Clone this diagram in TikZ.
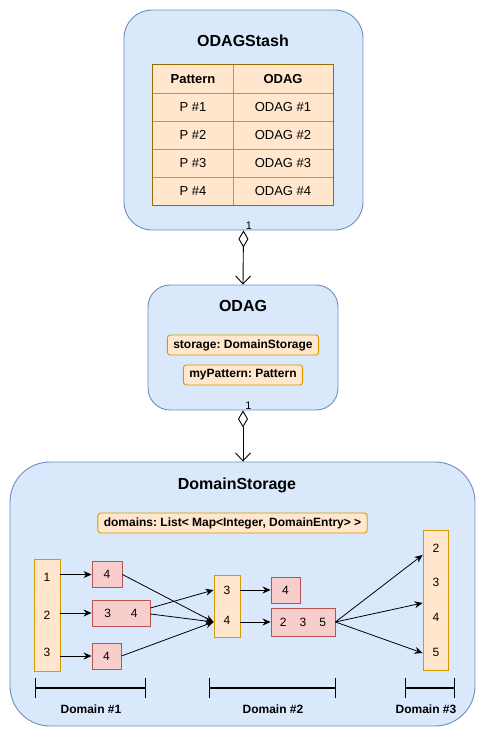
\documentclass[tikz,border=0pt]{standalone}
\usepackage{fontspec}
\setmainfont{Liberation Sans}
\usetikzlibrary{arrows.meta,positioning,calc}
\frenchspacing
\definecolor{boxblue}{HTML}{DAE8FC}
\definecolor{lineblue}{HTML}{6C8EBF}
\definecolor{peach}{HTML}{FFE6CC}
\definecolor{peachline}{HTML}{D79B00}
\definecolor{rosefill}{HTML}{F8CECC}
\definecolor{roseline}{HTML}{B85450}
\newcommand{\fs}[1]{\fontsize{#1}{#1}\selectfont}
\tikzset{
  holder/.style={draw=lineblue, fill=boxblue, line width=0.9pt},
  htitle/.style={font=\fs{16}\bfseries, inner sep=0pt},
  field/.style={draw=peachline, fill=peach, rounded corners=3pt, line width=0.9pt,
                minimum height=20pt, inner xsep=6pt, inner ysep=0pt, font=\fs{12}\bfseries},
  keybar/.style={draw=peachline, fill=peach, line width=0.9pt, minimum width=26pt},
  valbox/.style={draw=roseline, fill=rosefill, line width=0.9pt, minimum height=26pt,
                 inner sep=0pt, font=\fs{12}},
  keytxt/.style={font=\fs{12}, inner sep=0pt},
  celltxt/.style={font=\fs{13}, inner sep=0pt},
  mult/.style={font=\fs{11}, inner sep=1pt},
  aggr/.style={{Diamond[open, length=17pt, width=10pt]}-{Straight Barb[length=8pt, width=15pt]}, line width=0.9pt},
  link/.style={-{Stealth[length=8pt, width=7pt]}, line width=0.8pt},
  span/.style={{Bar[width=20pt]}-{Bar[width=20pt]}, line width=1.3pt},
  spantxt/.style={font=\fs{12}\bfseries, inner sep=0pt},
}
\begin{document}
\begin{tikzpicture}[x=1pt, y=-1pt]
  \useasboundingbox (0,0) rectangle (486,737);
  % ODAGStash
  \node[holder, rounded corners=28pt, minimum width=239pt, minimum height=220pt] (stash) at (243.5,120) {};
  \node[htitle] (stashtitle) at (243,41) {ODAGStash};
  \node[fill=peach, minimum width=180pt, minimum height=140pt, inner sep=0pt] (stashtab) at (243,135) {};
  \foreach \r in {1,...,4}{
    \draw[gray!80] (153,{65+28*\r}) -- (333,{65+28*\r});}
  \draw[gray!80] (233,65) -- (233,205);
  \draw[peachline!70!black, line width=0.9pt] (stashtab.north west) rectangle (stashtab.south east);
  \node[celltxt, font=\fs{13}\bfseries] (hpat) at (193,79) {Pattern};
  \node[celltxt, font=\fs{13}\bfseries] (hodag) at (283,79) {ODAG};
  \foreach \r in {1,...,4}{
    \node[celltxt] (pat\r) at (193,{79+28*\r}) {P \#\r};
    \node[celltxt] (odag\r) at (283,{79+28*\r}) {ODAG \#\r};}
  % ODAG
  \node[holder, rounded corners=22pt, minimum width=190pt, minimum height=125pt] (odag) at (243,347.5) {};
  \node[htitle] (odagtitle) at (243,306) {ODAG};
  \node[field] (storage) at (243,345) {storage: DomainStorage};
  \node[field] (mypat) at (243,375) {myPattern: Pattern};
  \draw[aggr] (stash.south) -- (odag.north) node[mult, pos=0, above right, xshift=1pt] {1};
  % DomainStorage
  \node[holder, rounded corners=40pt, minimum width=465pt, minimum height=264pt] (dstore) at (242.5,594) {};
  \node[htitle] (dstoretitle) at (237,485) {DomainStorage};
  \node[field] (domains) at (232.5,523) {domains: List< Map<Integer, DomainEntry> >};
  \draw[aggr] (odag.south) -- (dstore.north -| odag.south) node[mult, pos=0, above right, xshift=1pt] {1};
  % domain #1
  \node[keybar, minimum height=112pt] (bar1) at (47,615) {};
  \foreach \n/\v/\y in {a/1/577, b/2/615, c/3/652}{
    \node[keytxt] (k1\n) at (47,\y) {\v};}
  \node[valbox, minimum width=30pt] (e1a) at (107,574.5) {4};
  \node[valbox, minimum width=58pt] (e1b) at (121,613) {3\hspace{20pt}4};
  \node[valbox, minimum width=29pt] (e1c) at (106.5,656) {4};
  % domain #2
  \node[keybar, minimum height=62pt] (bar2) at (227,606) {};
  \node[keytxt] (k2a) at (227,590) {3};
  \node[keytxt] (k2b) at (227,620) {4};
  \node[valbox, minimum width=29pt] (e2a) at (285.5,590) {4};
  \node[valbox, minimum width=64pt, minimum height=28pt] (e2b) at (303,622) {2\hspace{13pt}3\hspace{13pt}5};
  % domain #3
  \node[keybar, minimum width=25pt, minimum height=140pt] (bar3) at (435.5,600) {};
  \foreach \n/\v/\y in {a/2/548, b/3/582, c/4/617, d/5/652}{
    \node[keytxt] (k3\n) at (436,\y) {\v};}
  % links
  \draw[link] (e1a.west -| bar1.east) -- (e1a.west);
  \draw[link] (e1b.west -| bar1.east) -- (e1b.west);
  \draw[link] (e1c.west -| bar1.east) -- (e1c.west);
  \draw[link] (e1a.east) -- ($(k2b -| bar2.west)+(0,2)$);
  \draw[link] ([yshift=5pt]e1b.east) -- (k2a -| bar2.west);
  \draw[link] ([yshift=-1pt]e1b.east) -- ($(k2b -| bar2.west)+(0,2)$);
  \draw[link] (e1c.east) -- ($(k2b -| bar2.west)+(0,2)$);
  \draw[link] (k2a -| bar2.east) -- (e2a.west);
  \draw[link] (e2b.west -| bar2.east) -- (e2b.west);
  \draw[link] (e2b.east) -- ($(k3a -| bar3.west)+(0,7)$);
  \draw[link] (e2b.east) -- ($(k3c -| bar3.west)+(0,-14)$);
  \draw[link] (e2b.east) -- ($(k3d -| bar3.west)+(0,1)$);
  % domain spans
  \coordinate (s1l) at (35,688);  \coordinate (s1r) at (146,688);
  \coordinate (s2l) at (209,688); \coordinate (s2r) at (336,688);
  \coordinate (s3l) at (405,688); \coordinate (s3r) at (455,688);
  \draw[span] (s1l) -- (s1r);
  \draw[span] (s2l) -- (s2r);
  \draw[span] (s3l) -- (s3r);
  \node[spantxt] (span1) at (91,709) {Domain \#1};
  \node[spantxt] (span2) at (273,709) {Domain \#2};
  \node[spantxt] (span3) at (426,709) {Domain \#3};
\end{tikzpicture}
\end{document}
